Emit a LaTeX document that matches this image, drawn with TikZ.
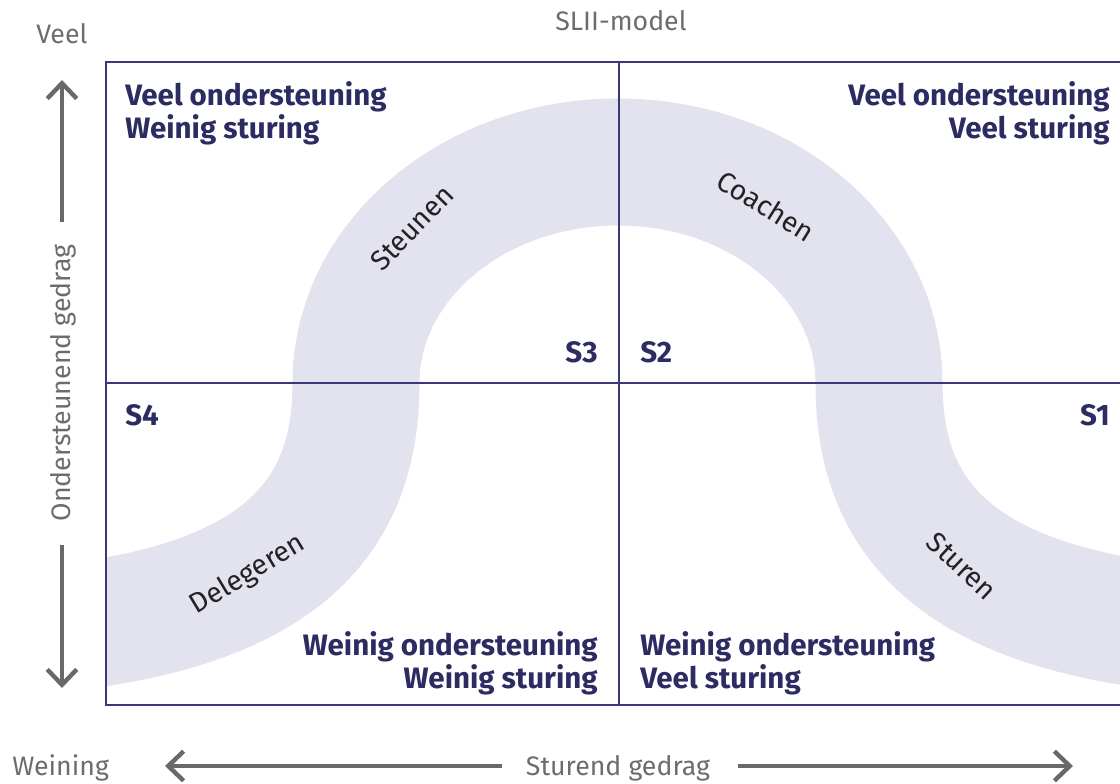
\documentclass[tikz,border=0pt]{standalone}
\usepackage{fontspec}
\setmainfont{Fira Sans}
\usetikzlibrary{arrows.meta}

\definecolor{navy}{RGB}{44,43,98}
\definecolor{framecol}{RGB}{58,56,120}
\definecolor{bandcol}{RGB}{227,227,240}
\definecolor{axisgray}{RGB}{105,105,105}
\definecolor{labelgray}{RGB}{108,108,108}
\definecolor{ink}{RGB}{34,34,34}

\begin{document}
\begin{tikzpicture}[x=0.025cm, y=-0.025cm,
  quad/.style={font=\fontsize{21}{25}\selectfont\bfseries, text=navy, inner sep=0pt},
  stylelabel/.style={font=\fontsize{20}{24}\selectfont, text=ink, inner sep=0pt},
  axislabel/.style={font=\fontsize{19}{23}\selectfont, text=labelgray, inner sep=0pt},
  gridline/.style={draw=framecol, line width=0.07cm},
  axisarrow/.style={draw=axisgray, line width=0.11cm,
    -{Straight Barb[length=11pt, width=21pt]}},
  bandstroke/.style={draw=bandcol, line width=3.175cm}]

\useasboundingbox (0,0) rectangle (1120,784);

% the S-shaped band of leadership styles
\begin{scope}
  \clip (106,0) rectangle (1120,784);
  \draw[bandstroke] (40,633) -- (105,622)
    .. controls (300,590) and (356,500) .. (356,383)
    .. controls (356,261) and (473,162) .. (618,162)
    .. controls (763,162) and (879,261) .. (879,383)
    .. controls (879,500) and (935,590) .. (1130,622)
    -- (1195,633);
\end{scope}

% quadrant grid
\coordinate (gTL) at (106,62);
\coordinate (gTR) at (1120,62);
\coordinate (gBL) at (106,705);
\coordinate (gBR) at (1120,705);
\coordinate (gMT) at (619,62);
\coordinate (gMB) at (619,705);
\coordinate (gML) at (106,383);
\coordinate (gMR) at (1120,383);
\draw[gridline] (gTR) -- (gTL) -- (gBL) -- (gBR);
\draw[gridline] (gMT) -- (gMB);
\draw[gridline] (gML) -- (gMR);

% quadrant descriptions
\node[quad, anchor=base west] (tl1) at (125,105) {Veel ondersteuning};
\node[quad, anchor=base west] (tl2) at (125,138) {Weinig sturing};
\node[quad, anchor=base east] (tr1) at (1110,105) {Veel ondersteuning};
\node[quad, anchor=base east] (tr2) at (1110,138) {Veel sturing};
\node[quad, anchor=base east] (bl1) at (598,655) {Weinig ondersteuning};
\node[quad, anchor=base east] (bl2) at (598,688) {Weinig sturing};
\node[quad, anchor=base west] (br1) at (640,655) {Weinig ondersteuning};
\node[quad, anchor=base west] (br2) at (640,688) {Veel sturing};

% style codes
\node[quad, anchor=base east] (s3) at (598,362) {S3};
\node[quad, anchor=base west] (s2) at (640,362) {S2};
\node[quad, anchor=base west] (s4) at (125,425) {S4};
\node[quad, anchor=base east] (s1) at (1110,425) {S1};

% style names along the band
\node[stylelabel, rotate=46] (steunen) at (412,228) {Steunen};
\node[stylelabel, rotate=-32] (coachen) at (766,206) {Coachen};
\node[stylelabel, rotate=31] (delegeren) at (248,575) {Delegeren};
\node[stylelabel, rotate=-43] (sturen) at (962,566) {Sturen};

% axes
\node[axislabel, anchor=base] (title) at (621,30) {SLII-model};
\node[axislabel, anchor=base west] (veel) at (36,43) {Veel};
\node[axislabel, anchor=base west] (weining) at (12,775) {Weining};
\node[axislabel, anchor=base] (xlabel) at (618,775) {Sturend gedrag};
\node[axislabel, rotate=90] (ylabel) at (63,383) {Ondersteunend gedrag};

\coordinate (upA) at (62,222);
\coordinate (upB) at (62,80);
\coordinate (dnA) at (62,545);
\coordinate (dnB) at (62,688);
\coordinate (lfA) at (502,766);
\coordinate (lfB) at (165,766);
\coordinate (rtA) at (738,766);
\coordinate (rtB) at (1073,766);
\draw[axisarrow] (upA) -- (upB);
\draw[axisarrow] (dnA) -- (dnB);
\draw[axisarrow] (lfA) -- (lfB);
\draw[axisarrow] (rtA) -- (rtB);

\end{tikzpicture}
\end{document}
